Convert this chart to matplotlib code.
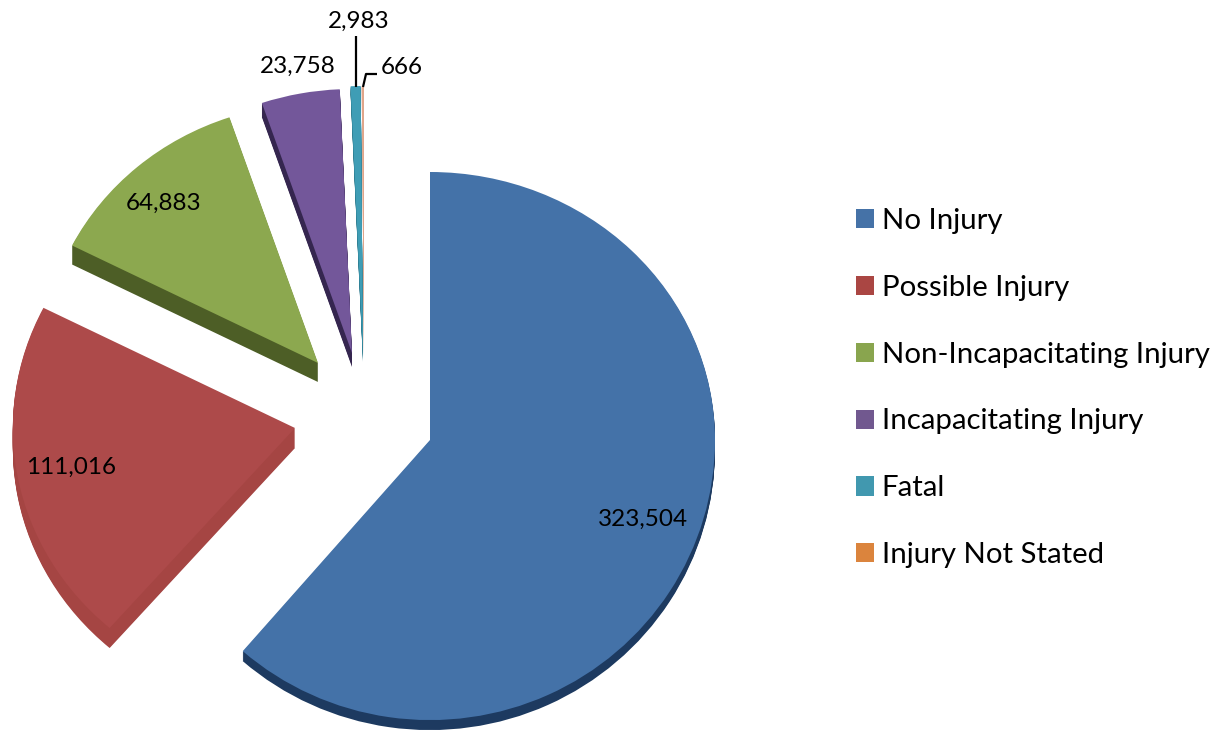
import matplotlib
matplotlib.use('Agg')
import matplotlib.pyplot as plt
from matplotlib.patches import Patch, Wedge
from matplotlib.transforms import Affine2D

plt.rcParams['font.family'] = ['Lato', 'DejaVu Sans']

W, H = 1222, 732
RX, RY = 285.0, 268.0

#~~~~~~
# DATA
#~~~~~~
categories = ['No Injury', 'Possible Injury', 'Non-Incapacitating Injury',
              'Incapacitating Injury', 'Fatal', 'Injury Not Stated']
values = [323504, 111016, 64883, 23758, 2983, 666]
value_labels = ['323,504', '111,016', '64,883', '23,758', '2,983', '666']

colors = ['#4572a7', '#aa4643', '#89a54e', '#71588f', '#4198af', '#db843d']
slice_colors = ['#4472a8', '#ad4a4a', '#8ca84f', '#73579a', '#3f9db5', '#e0a58a']
side_colors = ['#1d3a60', '#a54543', '#4d5e26', '#35264f', '#2a7a8e', '#d8b8a8']

# slice tips in image pixels, each slice was pulled out by hand in the original
tips = [(430, 440), (295, 428), (318, 363), (352, 353), (363, 354), (364, 354)]
depth = [10, 20, 19, 14, 8, 2]
# back slices look smaller, the picture has perspective
radii = [1, 0.99, 0.968, 0.985, 1, 1]
label_pos = [(643, 519), (71, 467), (164, 203), (298, 66), (359, 21), (402, 67)]
front_stretch = 1.045


def px(x, y):
	return x / RX, (H - y) / RY


def front_of_blue(w, tip, color):
	# lower part of the big slice comes closer to the viewer
	cx, cy = px(*tip)
	wd = Wedge((cx, cy), 1, w.theta1, 0, facecolor=color, linewidth=0)
	wd.set_transform(Affine2D().translate(-cx, -cy).scale(1, front_stretch).translate(cx, cy) + ax.transData)
	ax.add_patch(wd)
	w.set_theta1(0)


fig = plt.figure(figsize=(W / 100, H / 100), dpi=100)
ax = fig.add_axes([0, 0, 1, 1])

# side walls first: the same pie, repeated going down
for d in range(max(depth), 0, -1):
	wedges, _ = ax.pie(values, colors=side_colors, startangle=90, counterclock=False,
		wedgeprops={'linewidth': 0})
	for w, tip, dp, r in zip(wedges, tips, depth, radii):
		w.set_center(px(tip[0], tip[1] + d))
		w.set_radius(r)
		if d > dp:
			w.set_visible(False)
	if d <= depth[0]:
		front_of_blue(wedges[0], (tips[0][0], tips[0][1] + d), side_colors[0])

# top surface
wedges, _ = ax.pie(values, colors=slice_colors, startangle=90, counterclock=False,
	wedgeprops={'linewidth': 0})
for w, tip, r in zip(wedges, tips, radii):
	w.set_center(px(*tip))
	w.set_radius(r)
front_of_blue(wedges[0], tips[0], slice_colors[0])

ax.set_aspect('auto')
ax.set_xlim(0, W / RX)
ax.set_ylim(0, H / RY)
ax.axis('off')

for lab, pos in zip(value_labels, label_pos):
	x, y = px(*pos)
	ax.text(x, y, lab, fontsize=17.5, ha='center', va='center', color='black')

# leader lines for the two thin slices
ax.plot(*zip(px(356, 36), px(356, 87)), color='black', lw=1.6, solid_capstyle='butt')
ax.plot(*zip(px(377, 74), px(366, 74), px(363, 87)), color='black', lw=1.6, solid_capstyle='butt')

handles = [Patch(facecolor=c, edgecolor='none', label=n) for c, n in zip(colors, categories)]
fig.legend(handles=handles, loc='upper left', bbox_to_anchor=(856 / W, 1 - 208 / H),
	bbox_transform=fig.transFigure, frameon=False, fontsize=21.15, handlelength=0.62,
	handleheight=0.62, handletextpad=0.26, labelspacing=1.39, borderpad=0, borderaxespad=0)

plt.savefig('out.png', dpi=100)
